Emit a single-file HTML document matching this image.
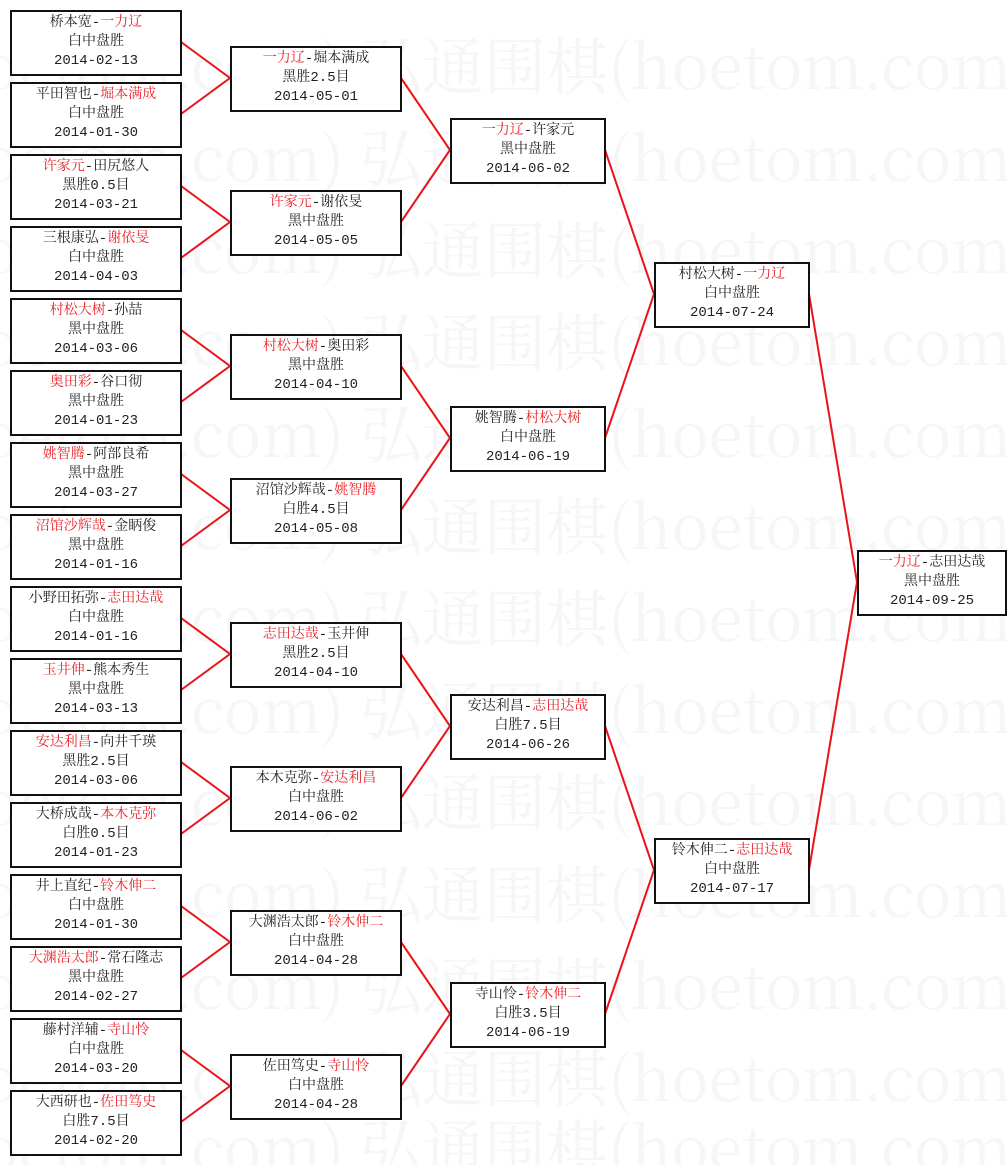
<!DOCTYPE html>
<html><head><meta charset="utf-8"><style>
html,body{margin:0;padding:0;background:#fff;}
#c{position:relative;width:1007px;height:1165px;overflow:hidden;background:#fff;font-family:"Liberation Mono","Noto Serif CJK SC","Noto Sans CJK SC",monospace;}
.wm{position:absolute;left:0;font-size:62px;color:#f6f6f6;white-space:nowrap;font-family:"Noto Serif CJK SC","Liberation Serif",serif;line-height:70px;}
.b{position:absolute;box-sizing:border-box;height:66px;border:2px solid #111;background:#fff;text-align:center;font-size:14px;line-height:19px;padding-top:2px;color:#222;white-space:nowrap;}
.c1{left:10px;width:172px}.c2{left:230px;width:172px}.c3{left:450px;width:156px}.c4{left:654px;width:156px}.c5{left:857px;width:150px}
r{color:#e8242a}
svg{position:absolute;left:0;top:0}
</style></head><body><div id="c">
<div class="wm" style="top:28px;left:-330px">弘通围棋(hoetom.com) 弘通围棋(hoetom.com) 弘通围棋(ho</div>
<div class="wm" style="top:120px;left:-330px">弘通围棋(hoetom.com) 弘通围棋(hoetom.com) 弘通围棋(ho</div>
<div class="wm" style="top:212px;left:-330px">弘通围棋(hoetom.com) 弘通围棋(hoetom.com) 弘通围棋(ho</div>
<div class="wm" style="top:304px;left:-330px">弘通围棋(hoetom.com) 弘通围棋(hoetom.com) 弘通围棋(ho</div>
<div class="wm" style="top:396px;left:-330px">弘通围棋(hoetom.com) 弘通围棋(hoetom.com) 弘通围棋(ho</div>
<div class="wm" style="top:488px;left:-330px">弘通围棋(hoetom.com) 弘通围棋(hoetom.com) 弘通围棋(ho</div>
<div class="wm" style="top:580px;left:-330px">弘通围棋(hoetom.com) 弘通围棋(hoetom.com) 弘通围棋(ho</div>
<div class="wm" style="top:672px;left:-330px">弘通围棋(hoetom.com) 弘通围棋(hoetom.com) 弘通围棋(ho</div>
<div class="wm" style="top:764px;left:-330px">弘通围棋(hoetom.com) 弘通围棋(hoetom.com) 弘通围棋(ho</div>
<div class="wm" style="top:856px;left:-330px">弘通围棋(hoetom.com) 弘通围棋(hoetom.com) 弘通围棋(ho</div>
<div class="wm" style="top:948px;left:-330px">弘通围棋(hoetom.com) 弘通围棋(hoetom.com) 弘通围棋(ho</div>
<div class="wm" style="top:1040px;left:-330px">弘通围棋(hoetom.com) 弘通围棋(hoetom.com) 弘通围棋(ho</div>
<div class="wm" style="top:1110px;left:-330px">弘通围棋(hoetom.com) 弘通围棋(hoetom.com) 弘通围棋(ho</div>

<svg width="1007" height="1165" stroke="#e8141a" stroke-width="2" fill="none">
<path d="M181 42L230 78L181 114M181 186L230 222L181 258M181 330L230 366L181 402M181 474L230 510L181 546M181 618L230 654L181 690M181 762L230 798L181 834M181 906L230 942L181 978M181 1050L230 1086L181 1122"/>
<path d="M401 78L450 150L401 222M401 366L450 438L401 510M401 654L450 726L401 798M401 942L450 1014L401 1086"/>
<path d="M605 150L654 294L605 438M605 726L654 870L605 1014"/>
<path d="M809 294L857 582L809 870"/>
</svg>

<div class="b c1" style="top:10px">桥本宽-<r>一力辽</r><br>白中盘胜<br>2014-02-13</div>
<div class="b c1" style="top:82px">平田智也-<r>堀本满成</r><br>白中盘胜<br>2014-01-30</div>
<div class="b c1" style="top:154px"><r>许家元</r>-田尻悠人<br>黑胜0.5目<br>2014-03-21</div>
<div class="b c1" style="top:226px">三根康弘-<r>谢依旻</r><br>白中盘胜<br>2014-04-03</div>
<div class="b c1" style="top:298px"><r>村松大树</r>-孙喆<br>黑中盘胜<br>2014-03-06</div>
<div class="b c1" style="top:370px"><r>奥田彩</r>-谷口彻<br>黑中盘胜<br>2014-01-23</div>
<div class="b c1" style="top:442px"><r>姚智腾</r>-阿部良希<br>黑中盘胜<br>2014-03-27</div>
<div class="b c1" style="top:514px"><r>沼馆沙辉哉</r>-金眪俊<br>黑中盘胜<br>2014-01-16</div>
<div class="b c1" style="top:586px">小野田拓弥-<r>志田达哉</r><br>白中盘胜<br>2014-01-16</div>
<div class="b c1" style="top:658px"><r>玉井伸</r>-熊本秀生<br>黑中盘胜<br>2014-03-13</div>
<div class="b c1" style="top:730px"><r>安达利昌</r>-向井千瑛<br>黑胜2.5目<br>2014-03-06</div>
<div class="b c1" style="top:802px">大桥成哉-<r>本木克弥</r><br>白胜0.5目<br>2014-01-23</div>
<div class="b c1" style="top:874px">井上直纪-<r>铃木伸二</r><br>白中盘胜<br>2014-01-30</div>
<div class="b c1" style="top:946px"><r>大渊浩太郎</r>-常石隆志<br>黑中盘胜<br>2014-02-27</div>
<div class="b c1" style="top:1018px">藤村洋辅-<r>寺山怜</r><br>白中盘胜<br>2014-03-20</div>
<div class="b c1" style="top:1090px">大西研也-<r>佐田笃史</r><br>白胜7.5目<br>2014-02-20</div>

<div class="b c2" style="top:46px"><r>一力辽</r>-堀本满成<br>黑胜2.5目<br>2014-05-01</div>
<div class="b c2" style="top:190px"><r>许家元</r>-谢依旻<br>黑中盘胜<br>2014-05-05</div>
<div class="b c2" style="top:334px"><r>村松大树</r>-奥田彩<br>黑中盘胜<br>2014-04-10</div>
<div class="b c2" style="top:478px">沼馆沙辉哉-<r>姚智腾</r><br>白胜4.5目<br>2014-05-08</div>
<div class="b c2" style="top:622px"><r>志田达哉</r>-玉井伸<br>黑胜2.5目<br>2014-04-10</div>
<div class="b c2" style="top:766px">本木克弥-<r>安达利昌</r><br>白中盘胜<br>2014-06-02</div>
<div class="b c2" style="top:910px">大渊浩太郎-<r>铃木伸二</r><br>白中盘胜<br>2014-04-28</div>
<div class="b c2" style="top:1054px">佐田笃史-<r>寺山怜</r><br>白中盘胜<br>2014-04-28</div>

<div class="b c3" style="top:118px"><r>一力辽</r>-许家元<br>黑中盘胜<br>2014-06-02</div>
<div class="b c3" style="top:406px">姚智腾-<r>村松大树</r><br>白中盘胜<br>2014-06-19</div>
<div class="b c3" style="top:694px">安达利昌-<r>志田达哉</r><br>白胜7.5目<br>2014-06-26</div>
<div class="b c3" style="top:982px">寺山怜-<r>铃木伸二</r><br>白胜3.5目<br>2014-06-19</div>

<div class="b c4" style="top:262px">村松大树-<r>一力辽</r><br>白中盘胜<br>2014-07-24</div>
<div class="b c4" style="top:838px">铃木伸二-<r>志田达哉</r><br>白中盘胜<br>2014-07-17</div>

<div class="b c5" style="top:550px"><r>一力辽</r>-志田达哉<br>黑中盘胜<br>2014-09-25</div>
</div></body></html>
